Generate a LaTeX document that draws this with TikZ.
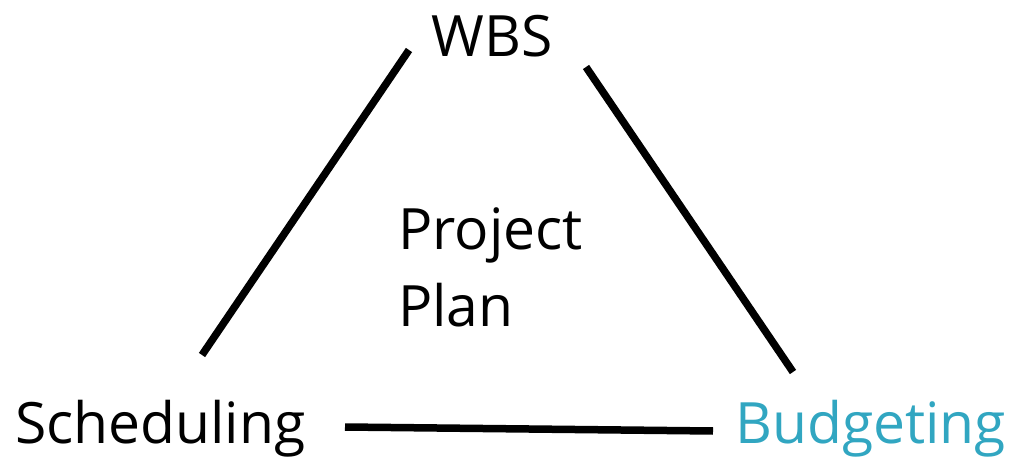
\documentclass[tikz,border=0pt]{standalone}
\usepackage{fontspec}
\setmainfont{Open Sans}
\definecolor{teal}{HTML}{31A6C1}
\begin{document}
\begin{tikzpicture}[x=1pt,y=1pt,
  lbl/.style={inner sep=0pt,font=\fontsize{57}{77}\selectfont},
  edge/.style={line width=7.5pt}]
\useasboundingbox (0,0) rectangle (1012,458);
\node[lbl,anchor=base] (wbs) at (492,401) {WBS};
\node[lbl,anchor=base west,align=left] (pp) at (398,131) {Project\\Plan};
\node[lbl,anchor=base west] (sch) at (15,15) {Scheduling};
\node[lbl,anchor=base west,text=teal] (bud) at (735,15) {Budgeting};
\coordinate (a1) at (409,408);
\coordinate (a2) at (202,103);
\coordinate (b1) at (586,391);
\coordinate (b2) at (793,86);
\coordinate (c1) at (345,31);
\coordinate (c2) at (713,27);
\draw[edge] (a1) -- (a2);
\draw[edge] (b1) -- (b2);
\draw[edge] (c1) -- (c2);
\end{tikzpicture}
\end{document}
